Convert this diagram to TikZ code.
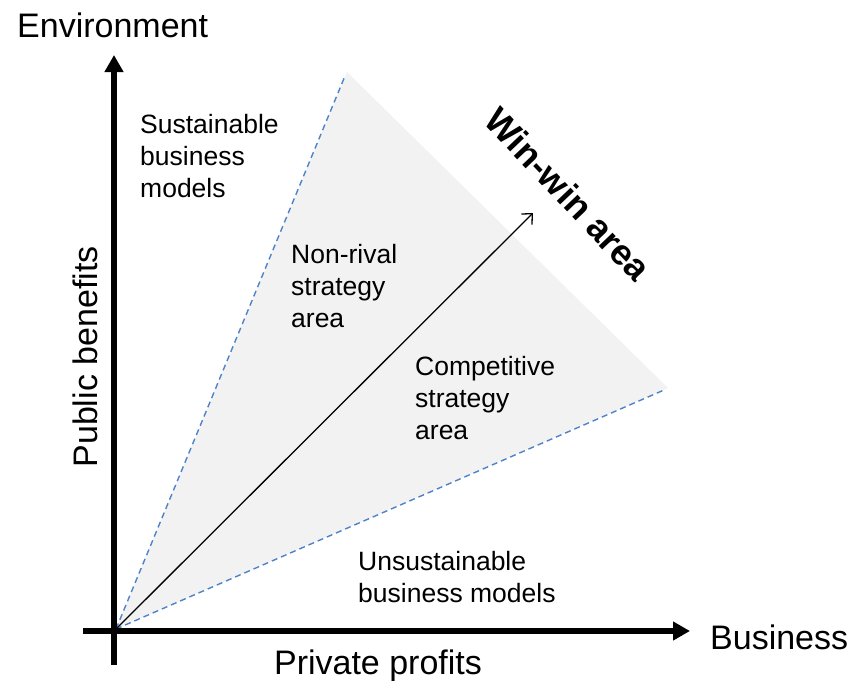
\documentclass[tikz,border=0pt]{standalone}
\usepackage{fontspec}
\setmainfont{Liberation Sans}
\usetikzlibrary{arrows.meta}
\definecolor{regiongray}{HTML}{F2F2F2}
\definecolor{boundblue}{HTML}{4F82C8}
\begin{document}
\begin{tikzpicture}[x=1pt,y=-1pt,
  axis/.style={line width=5.5pt,-{Triangle[length=17pt,width=18pt]}},
  bound/.style={boundblue,line width=1.4pt,dash pattern=on 6pt off 4pt},
  biglabel/.style={font=\fontsize{34}{40}\selectfont,inner sep=0pt},
  smalllabel/.style={font=\fontsize{26.5}{32}\selectfont,align=left,inner sep=0pt,anchor=north west},
]
\useasboundingbox (0,0) rectangle (851,680);

% key points of the strategy cone
\coordinate (O) at (116,629);
\coordinate (T) at (347,72);
\coordinate (R) at (668,388);
\coordinate (Tb) at (345,76);
\coordinate (Rb) at (664,390);
\coordinate (W) at (533,213);

% shaded win-win cone and its dashed borders
\fill[regiongray] (O) -- (T) -- (R) -- cycle;
\draw[bound] (O) -- (Tb);
\draw[bound] (O) -- (Rb);
\draw[line width=1.3pt,-{Straight Barb[length=8pt,width=15pt]}] (O) -- (W);

% axes
\coordinate (ybot) at (114,665);
\coordinate (ytop) at (114,55);
\coordinate (xleft) at (83,631);
\coordinate (xright) at (690,631);
\draw[axis] (ybot) -- (ytop);
\draw[axis] (xleft) -- (xright);

% axis labels
\node[biglabel,anchor=base west] (env) at (17,37) {Environment};
\node[biglabel,anchor=base west] (bus) at (710,649) {Business};
\node[biglabel,anchor=base] (priv) at (378,674) {Private profits};
\node[biglabel,rotate=90,anchor=base] (pub) at (97,357) {Public benefits};

% region labels
\node[smalllabel] (sust) at (140,114) {Sustainable\\business\\models};
\node[smalllabel] (nonrival) at (291,244) {Non-rival\\strategy\\area};
\node[smalllabel] (compet) at (415,356) {Competitive\\strategy\\area};
\node[smalllabel] (unsust) at (358,551) {Unsustainable\\business models};

\node[font=\bfseries\fontsize{36}{42}\selectfont,rotate=-46.5,inner sep=0pt] (win) at (568,194) {Win-win area};
\end{tikzpicture}
\end{document}
